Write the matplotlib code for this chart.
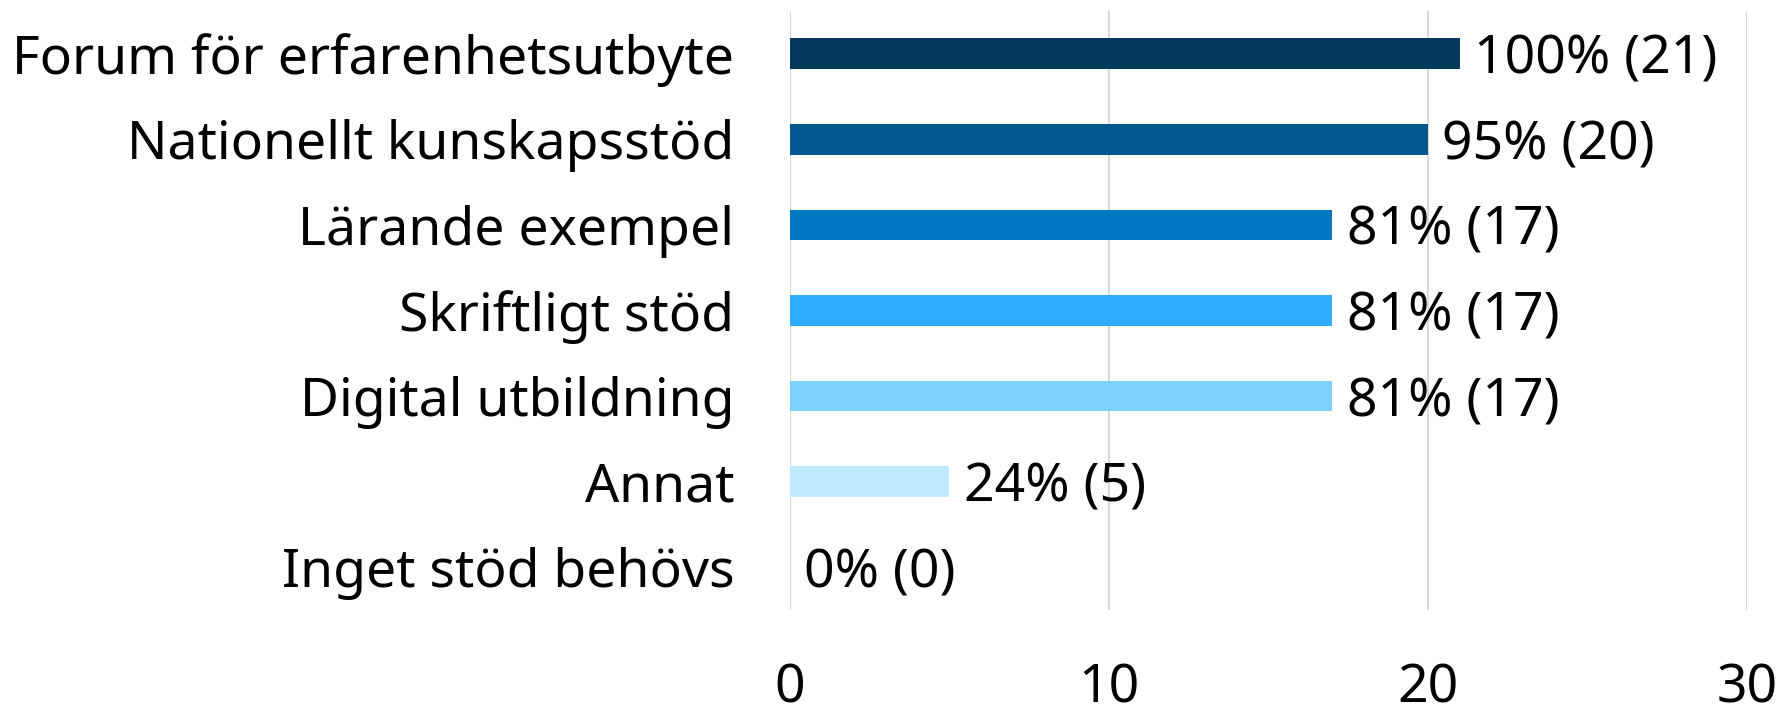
import matplotlib
matplotlib.use("Agg")
import matplotlib.pyplot as plt

categories = [
    "Forum för erfarenhetsutbyte",
    "Nationellt kunskapsstöd",
    "Lärande exempel",
    "Skriftligt stöd",
    "Digital utbildning",
    "Annat",
    "Inget stöd behövs",
]
counts = [21, 20, 17, 17, 17, 5, 0]
percents = [100, 95, 81, 81, 81, 24, 0]
colors = ["#023a5e", "#02598f", "#0078c4", "#30acff", "#80d0ff", "#c0e8ff", "#c0e8ff"]
x_ticks = [0, 10, 20, 30]

plt.rcParams["font.family"] = ["Noto Sans", "DejaVu Sans"]
FS = 38.5

fig = plt.figure(figsize=(17.8, 7.09), dpi=100)
ax = fig.add_axes([0.4438, 0.1396, 0.5377, 0.8449])

ypos = list(range(len(categories)))
ax.barh(ypos, counts, height=0.36, color=colors, zorder=3)

for y, c, p in zip(ypos, counts, percents):
    ax.text(c + 0.45, y, f"{p}% ({c})", va="center_baseline", ha="left",
            fontsize=FS, color="black", zorder=4)

ax.set_xlim(0, 30)
ax.set_ylim(len(categories) - 0.5, -0.5)
ax.set_xticks(x_ticks)
ax.set_yticks(ypos)
ax.set_yticklabels(categories, va="center_baseline")
ax.tick_params(axis="x", length=0, pad=38, labelsize=FS)
ax.tick_params(axis="y", length=0, pad=40, labelsize=FS)
ax.grid(axis="x", color="#d9d9d9", linewidth=1.5, zorder=0)
for s in ax.spines.values():
    s.set_visible(False)

fig.savefig("out.png", dpi=100)
